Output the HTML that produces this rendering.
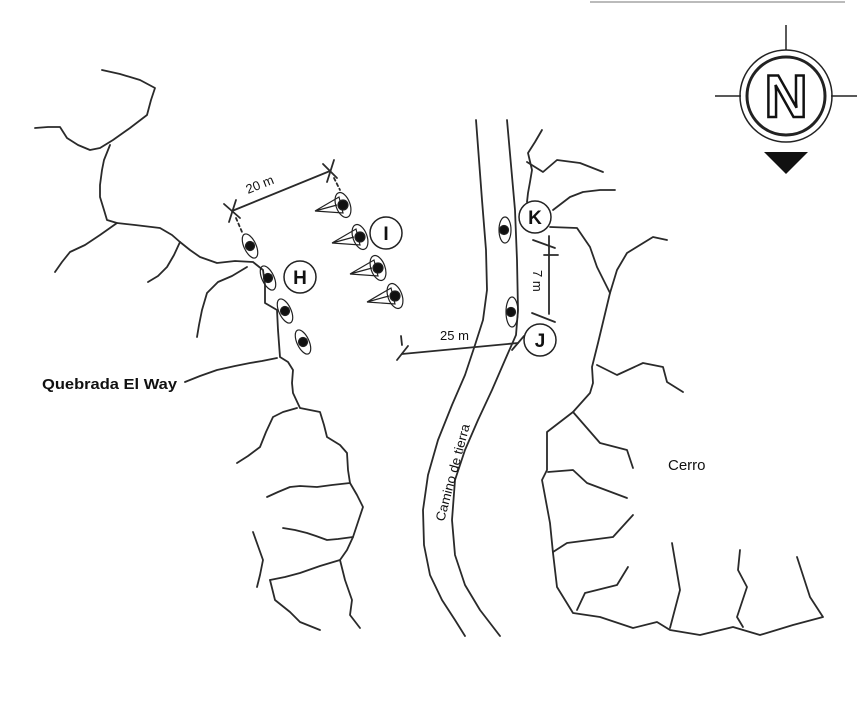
<!DOCTYPE html>
<html><head><meta charset="utf-8"><style>
html,body{margin:0;padding:0;background:#fff;width:866px;height:702px;overflow:hidden}
svg{display:block}
text{font-family:"Liberation Sans",Arial,sans-serif;fill:#111}
</style></head><body>
<svg width="866" height="702" viewBox="0 0 866 702" xmlns="http://www.w3.org/2000/svg">
<line x1="590" y1="2" x2="845" y2="2" stroke="#bbb" stroke-width="2"/>
<g fill="none" stroke="#2a2a2a" stroke-width="1.8" stroke-linejoin="round" stroke-linecap="round">
<polyline points="102,70 120,74 140,80 155,88 151,100 147,115 130,128 113,140 100,148 90,150 78,145 67,138 60,127 48,127 35,128"/>
<polyline points="110,145 104,160 102,170 100,185 100,197 104,210 107,220 117,223 135,225 160,228 172,235 180,242 190,250 200,257 217,263 235,261 253,262 263,270 265,285 265,303 277,310 278,330 280,357 288,362 293,370 292,383 293,393 300,408 320,412 324,425 327,437 340,445 347,453 348,470 350,483 357,495 363,507 358,522 353,537 347,550 340,560 320,566 300,573 285,577 270,580"/>
<polyline points="117,223 100,235 85,245 70,252 62,262 55,272"/>
<polyline points="180,242 174,255 167,267 158,276 148,282"/>
<polyline points="247,267 232,276 218,282 207,293 202,310 199,325 197,337"/>
<polyline points="277,358 262,361 250,363 235,366 217,370 200,376 185,382"/>
<polyline points="297,408 283,412 273,417 266,432 260,447 248,456 237,463"/>
<polyline points="350,483 332,485 317,487 300,486 290,487 278,492 267,497"/>
<polyline points="353,537 338,539 327,540 316,536 307,533 295,530 283,528"/>
<polyline points="253,532 258,546 263,560 260,575 257,587"/>
<polyline points="270,580 275,600 290,612 300,622 320,630"/>
<polyline points="340,560 345,580 352,600 350,615 360,628"/>
<polyline points="476,120 479,160 482,200 486,250 487,290 483,320 475,345 465,375 452,405 438,440 428,475 423,510 424,545 430,575 442,600 455,620 465,636"/>
<polyline points="507,120 511,165 515,210 517,260 518,310 516,335 505,360 492,390 478,420 465,450 455,480 452,520 455,555 465,585 480,610 500,636"/>
<polyline points="542,130 535,142 528,153 532,170 530,182 528,193 527,202"/>
<polyline points="527,162 543,172 557,160 580,163 603,172"/>
<polyline points="553,210 570,197 583,192 600,190 615,190"/>
<polyline points="550,227 577,228 590,247 597,267 610,293 598,343 592,367 593,383 590,393 573,412 547,432 547,470 542,480 550,523 553,553 557,587 573,613 600,617 633,628 657,622 670,630 700,635 733,627 760,635 793,625 823,617 810,597 797,557"/>
<polyline points="610,293 617,270 627,253 653,237 667,240"/>
<polyline points="597,365 617,375 643,363 663,367 667,382 683,392"/>
<polyline points="573,412 600,443 627,450 633,468"/>
<polyline points="548,472 573,470 587,483 627,498"/>
<polyline points="553,552 567,543 613,537 633,515"/>
<polyline points="577,610 585,593 617,585 628,567"/>
<polyline points="670,628 680,590 672,543"/>
<polyline points="743,627 737,617 747,587 738,570 740,550"/>
<line x1="232" y1="211" x2="330" y2="171"/>
<line x1="224" y1="204" x2="240" y2="218"/><line x1="229" y1="222" x2="236" y2="200"/>
<line x1="323" y1="164" x2="337" y2="178"/><line x1="327" y1="182" x2="334" y2="160"/>
<line x1="236" y1="218" x2="242" y2="232" stroke-dasharray="3,3"/>
<line x1="334" y1="178" x2="340" y2="190" stroke-dasharray="3,3"/>
<line x1="402" y1="354" x2="518" y2="343"/>
<line x1="397" y1="360" x2="408" y2="346"/><line x1="512" y1="350" x2="524" y2="336"/>
<line x1="401" y1="336" x2="402" y2="345"/>
<line x1="549" y1="236" x2="549" y2="314"/>
<line x1="533" y1="240" x2="555" y2="248"/><line x1="544" y1="255" x2="558" y2="255"/>
<line x1="532" y1="313" x2="555" y2="322"/>
</g>
<g stroke="#222" stroke-width="1.2" fill="none">
<g transform="translate(335,205)"><ellipse cx="8" cy="0" rx="7" ry="13" transform="rotate(-20 8 0)"/><polyline points="-20,6 4,-8 8,8 -20,6 2,0"/><circle cx="8" cy="0" r="5" fill="#111"/></g>
<g transform="translate(352,237)"><ellipse cx="8" cy="0" rx="7" ry="13" transform="rotate(-20 8 0)"/><polyline points="-20,6 4,-8 8,8 -20,6 2,0"/><circle cx="8" cy="0" r="5" fill="#111"/></g>
<g transform="translate(370,268)"><ellipse cx="8" cy="0" rx="7" ry="13" transform="rotate(-20 8 0)"/><polyline points="-20,6 4,-8 8,8 -20,6 2,0"/><circle cx="8" cy="0" r="5" fill="#111"/></g>
<g transform="translate(387,296)"><ellipse cx="8" cy="0" rx="7" ry="13" transform="rotate(-20 8 0)"/><polyline points="-20,6 4,-8 8,8 -20,6 2,0"/><circle cx="8" cy="0" r="5" fill="#111"/></g>
<g transform="translate(250,246) rotate(-25)"><ellipse rx="6" ry="13"/><circle r="4.5" fill="#111"/></g>
<g transform="translate(268,278) rotate(-25)"><ellipse rx="6" ry="13"/><circle r="4.5" fill="#111"/></g>
<g transform="translate(285,311) rotate(-25)"><ellipse rx="6" ry="13"/><circle r="4.5" fill="#111"/></g>
<g transform="translate(303,342) rotate(-25)"><ellipse rx="6" ry="13"/><circle r="4.5" fill="#111"/></g>
<g transform="translate(505,230)"><ellipse rx="6" ry="13"/><circle cx="-1" r="4.5" fill="#111"/></g>
<g transform="translate(512,312)"><ellipse rx="6" ry="15"/><circle cx="-1" r="4.5" fill="#111"/></g>
</g>
<g stroke="#222" stroke-width="1.5" fill="#fff">
<circle cx="386" cy="233" r="16"/><circle cx="300" cy="277" r="16"/>
<circle cx="535" cy="217" r="16"/><circle cx="540" cy="340" r="16"/>
</g>
<g font-size="19" font-weight="bold" text-anchor="middle">
<text x="386" y="240">I</text><text x="300" y="284">H</text>
<text x="535" y="224">K</text><text x="540" y="347">J</text>
</g>
<text x="0" y="0" font-size="13" transform="translate(248,194) rotate(-22)">20 m</text>
<text x="440" y="340" font-size="13">25 m</text>
<text x="0" y="0" font-size="13" transform="translate(533,270) rotate(90)">7 m</text>
<text x="42" y="389" font-size="15" font-weight="bold" textLength="135" lengthAdjust="spacingAndGlyphs">Quebrada El Way</text>
<text x="0" y="0" font-size="13" transform="translate(444,522) rotate(-75)" textLength="100" lengthAdjust="spacingAndGlyphs">Camino de tierra</text>
<text x="668" y="470" font-size="15">Cerro</text>
<g stroke="#222" fill="none">
<line x1="715" y1="96" x2="741" y2="96" stroke-width="1.5"/><line x1="831" y1="96" x2="857" y2="96" stroke-width="1.5"/>
<line x1="786" y1="25" x2="786" y2="50" stroke-width="1.5"/>
<circle cx="786" cy="96" r="46" stroke-width="1.5"/>
<circle cx="786" cy="96" r="39" stroke-width="3"/>
</g>
<text x="786" y="117" font-size="60" font-weight="bold" text-anchor="middle" stroke="#111" stroke-width="2.5" style="fill:#fff">N</text>
<polygon points="764,152 808,152 786,174" fill="#111"/>
</svg>
</body></html>
